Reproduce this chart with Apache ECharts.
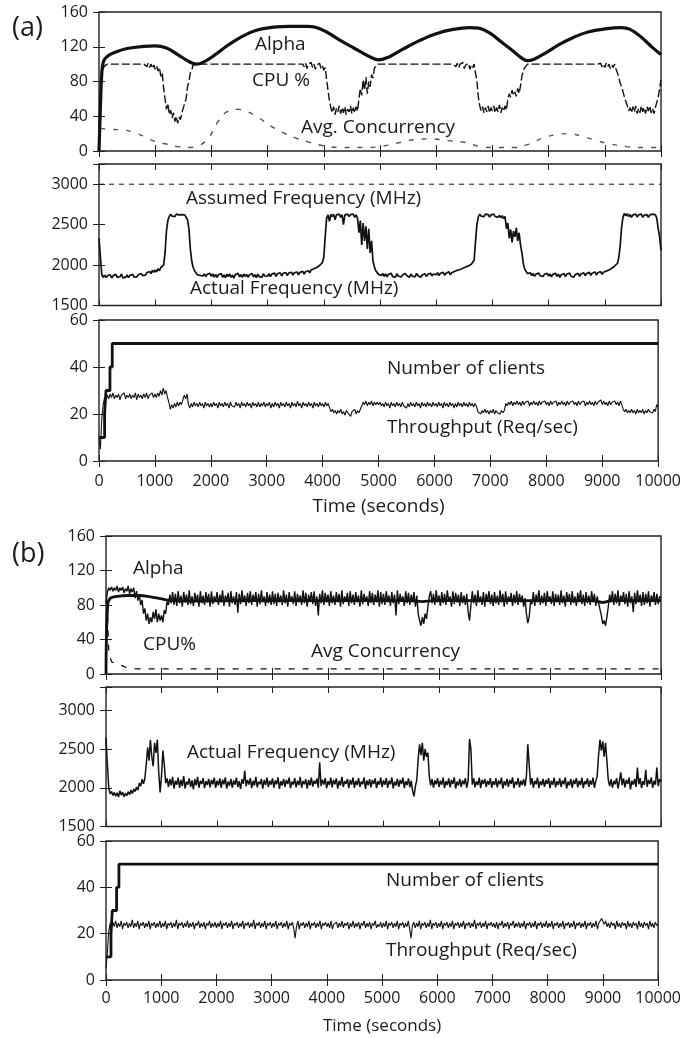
<!DOCTYPE html>
<html>
<head>
<meta charset="utf-8">
<script src="https://cdn.jsdelivr.net/npm/echarts@6/dist/echarts.min.js"></script>
<style>
html,body{margin:0;padding:0;background:#fff;}
#chart{width:684px;height:1038px;}
</style>
</head>
<body>
<div id="chart"></div>
<script>
// ---------------- DATA ----------------
const STEP = 25; // sampling interval (s) of the noisy traces

// (a) panel 1
const alphaA = [[0,0],[25,50],[50,90],[80,103],[150,109],[300,114],[500,118],[800,120.5],[1000,121],[1200,118.5],[1400,111],[1600,103],[1730,100],[1850,102],[2050,110],[2300,122],[2550,132],[2800,139],[3100,142.5],[3400,143.5],[3700,143.5],[3850,142.5],[4050,137],[4300,127],[4550,118],[4800,109],[4970,105],[5150,108],[5400,117],[5700,127],[6000,135],[6300,140],[6600,142],[6750,141.5],[6950,136],[7150,126],[7350,116],[7500,108],[7620,104],[7750,106],[7950,113],[8200,123],[8450,131],[8700,137],[9000,140.5],[9300,142],[9450,140],[9650,131],[9850,119],[10000,111]];
const cpuA = [
 5,60,88,95,98,100,100,100,100,100,100,100,100,100,100,100,100,100,100,100,100,100,100,100,100,100,100,100,100,100,100,100,100,100,97,101,96,100,95,99,
 94,98,92,96,86,90,72,60,48,55,42,47,38,44,34,40,32,39,36,44,42,55,60,74,80,90,93,99,97,100,100,100,100,100,100,100,100,100,100,100,
 100,100,100,100,100,100,100,100,100,100,100,100,100,100,100,100,100,100,100,100,100,100,100,100,100,100,100,100,100,100,100,100,100,100,100,100,100,100,100,100,
 100,100,100,100,100,100,100,100,100,100,100,100,100,100,100,100,100,100,100,100,100,100,100,100,100,100,97,101,95,100,98,102,96,100,94,99,97,101,95,98,
 93,96,82,70,58,50,44,51,42,49,45,52,43,50,44,51,42,48,45,52,43,50,44,51,46,60,72,64,82,70,85,66,80,74,88,84,95,97,100,100,
 100,100,100,100,100,100,100,100,100,100,100,100,100,100,100,100,100,100,100,100,100,100,100,100,100,100,100,100,100,100,100,100,100,100,100,100,100,100,100,100,
 100,100,100,100,100,100,100,100,100,100,100,100,100,100,97,101,96,100,98,102,95,99,97,101,94,99,96,100,90,80,62,52,46,51,44,50,45,52,44,50,
 46,52,44,50,45,53,44,50,46,52,47,60,66,62,70,64,68,63,72,66,75,86,92,96,98,100,100,100,100,100,100,100,100,100,100,100,100,100,100,100,
 100,100,100,100,100,100,100,100,100,100,100,100,100,100,100,100,100,100,100,100,100,100,100,100,100,100,100,100,100,100,100,100,100,100,100,100,98,101,97,100,
 96,101,97,100,95,99,96,100,94,90,84,78,74,68,62,57,52,46,50,44,51,45,52,43,49,44,52,45,50,43,51,46,52,44,49,43,50,48,62,72,
 82];
const concA = [[20,26],[200,25],[450,24],[650,21],[850,15],[1000,11],[1200,8],[1400,5],[1600,4],[1800,7],[1950,15],[2100,32],[2250,44],[2450,48],[2650,45],[2850,38],[3050,29],[3250,22],[3500,15],[3750,10],[4000,6],[4300,4],[4700,4],[5000,5],[5300,9],[5600,13],[5900,14],[6200,12],[6500,10],[6800,5],[7100,4],[7400,4],[7650,8],[7900,15],[8150,19],[8350,20],[8600,17],[8850,12],[9100,8],[9400,5],[9700,4],[10000,4]];

// (a) panel 2
const assumedA = [[0,3000],[10000,3000]];
const freqA = [
 2330,2100,1880,1850,1875,1845,1870,1852,1880,1840,1868,1855,1885,1848,1872,1858,1890,1842,1866,1850,1878,1846,1872,1860,1885,1850,1870,1855,1880,1862,1895,1870,1888,1875,1905,1885,1920,1895,1935,1910,
 1940,1915,1955,1930,1970,1950,2000,2150,2420,2550,2600,2630,2605,2625,2600,2630,2610,2620,2598,2625,2605,2620,2590,2560,2450,2200,2050,1970,1930,1905,1880,1900,1872,1895,1865,1890,1860,1885,1870,1898,
 1860,1890,1852,1885,1848,1880,1862,1895,1850,1878,1845,1888,1858,1892,1850,1875,1840,1882,1865,1898,1855,1880,1848,1890,1860,1885,1850,1878,1862,1895,1852,1882,1845,1888,1858,1880,1850,1892,1865,1885,
 1862,1895,1858,1888,1870,1900,1860,1892,1875,1905,1865,1898,1878,1908,1870,1900,1880,1912,1875,1905,1885,1915,1880,1910,1890,1922,1888,1918,1895,1930,1905,1940,1920,1955,1935,1970,1960,1995,1985,2030,
 2100,2350,2580,2620,2540,2625,2600,2630,2560,2620,2605,2630,2590,2625,2500,2620,2610,2630,2600,2625,2610,2630,2590,2620,2580,2400,2550,2250,2520,2300,2480,2200,2450,2150,2300,2050,1980,1930,1910,1885,
 1900,1870,1895,1862,1890,1855,1885,1868,1898,1858,1880,1850,1892,1865,1888,1852,1878,1860,1895,1870,1885,1848,1890,1862,1880,1855,1898,1868,1885,1850,1878,1862,1892,1858,1885,1870,1900,1865,1890,1875,
 1880,1905,1870,1898,1885,1910,1875,1900,1890,1918,1880,1905,1895,1920,1905,1935,1915,1945,1930,1960,1945,1975,1960,1990,1985,2010,2030,2060,2300,2500,2600,2630,2605,2625,2600,2630,2610,2625,2595,2620,
 2605,2630,2600,2620,2590,2615,2585,2610,2575,2600,2450,2520,2330,2440,2280,2420,2350,2460,2300,2400,2250,2150,2020,1950,1920,1895,1880,1905,1870,1895,1862,1888,1875,1900,1868,1892,1858,1885,1870,1898,
 1865,1890,1855,1885,1870,1898,1860,1888,1848,1880,1868,1895,1858,1888,1872,1900,1862,1885,1850,1882,1870,1898,1860,1890,1875,1905,1868,1895,1880,1910,1872,1900,1885,1915,1878,1905,1890,1920,1885,1912,
 1895,1925,1905,1940,1925,1960,1950,1990,1985,2020,2100,2250,2480,2600,2640,2610,2635,2600,2625,2590,2620,2600,2630,2595,2620,2605,2630,2590,2615,2600,2625,2590,2620,2600,2630,2610,2620,2580,2450,2350,
 2180];

// (a) panel 3
const clientsA = [[0,10],[100,20],[125,30],[196,40],[237,50],[10000,50]];
const tputA = [
 10,5,18,24,27,26,28,26.5,28.5,27,29,26.5,28,27,28.5,26,28,27.5,29,26.5,28,27,28.5,26.5,28,27,29,26,28.5,27,28,26.5,28.5,27,29,26.5,28,27.5,29,27,
 28.5,27,29,27.5,30,28,31,28.5,30,27,25,22,24,22.5,24.5,23,25,23.5,25,24,26,28,26.5,28.5,24,22.5,24.5,23,25,23.5,24.5,23,25,23.5,24.5,22.5,25,23.5,24.5,23,
 24.5,23,25,23.5,24.5,22.5,25,23.5,24.5,23,25,23.5,24.5,22.5,25,23.5,24,23,25,23.5,24.5,22.5,25,23.5,24.5,23,25,23.5,24.5,22.5,25,23.5,24.5,23,25,23,24.5,23.5,25,23,
 24.5,23.5,25,22.5,24.5,23,25,23.5,24.5,22.5,25,23.5,24.5,23,25,23.5,24.5,22.5,25,23.5,24.5,23,25.5,23.5,24.5,22.5,25,23.5,24.5,23,25,23.5,24.5,22.5,25,23.5,24.5,23,25,23.5,
 24.5,23,25,23.5,24.5,22.5,21,22,20.5,21.5,20,21.5,20.5,22,20,21,19.5,21.5,20.5,21,19,21,20.5,22,20,21.5,20.5,22,22.5,25,24,25.5,23.5,25,24,25.5,23.5,25,24,25,
 24,25,23.5,24.5,23,25,23.5,24.5,22.5,25,23.5,24.5,23,25,23.5,24.5,23,25,23.5,24,22.5,24.5,23,25,23.5,24.5,23,25,23.5,24.5,22.5,25,23.5,24.5,23,25,23.5,24.5,23,25,
 23.5,24.5,23,25,23.5,24.5,22.5,25,23.5,24.5,23,25,23.5,24.5,22.5,24.5,23,25,23.5,24.5,23,25,23.5,24.5,23,25,23.5,24.5,23,24.5,23.5,21,21.5,20,21.5,20.5,22,20.5,21.5,20,
 21.5,20.5,22,20,21.5,20.5,21,20,21.5,20.5,21.5,24.5,23.5,25,24,25.5,23.5,25,24,25.5,24,25,23.5,25.5,24,25,24.5,25.5,23.5,25,24,25.5,24,25,23.5,25.5,24,25,24.5,25.5,
 24,25,23.5,25.5,24,25,24.5,25.5,23.5,25,24,25.5,24,25,23.5,25.5,24,25,24.5,25.5,24,25,23.5,25.5,24,25,24.5,25.5,23.5,25,24,25.5,24,25,23.5,25.5,24,25,24.5,26,
 24,25.5,24,25,23.5,25.5,24,25,24.5,25.5,24,25,23.5,25.5,24,22,21,22,20.5,21.5,20.5,22,20.5,21.5,20,22,20.5,21.5,20.5,22,20,21.5,20.5,22,21,21.5,20.5,22,21,24,
 23];

// (b) panel 1
const alphaB = [[0,0],[30,80],[80,88],[200,90],[400,91],[600,91],[800,89.5],[1000,87],[1200,85],[1500,84.5],[2500,85],[3500,85],[4500,85],[5500,85],[5700,84],[5900,85],[7000,85],[8000,85],[8800,85],[8950,83],[9100,85],[10000,85]];
const cpuB = [
 82,95,100,97,101,96,100,97,102,95,100,97,101,94,99,96,102,93,99,95,100,88,96,85,92,80,86,70,76,62,70,58,66,60,72,64,75,60,70,62,
 68,60,74,70,84,80,92,82,95,80,93,79,96,82,91,78,95,83,92,80,97,81,90,79,94,84,92,78,96,82,91,80,95,83,93,78,96,81,90,84,
 95,80,92,83,97,79,91,84,94,78,96,82,90,80,95,71,93,81,97,83,91,79,94,82,96,80,92,84,95,78,93,81,97,83,90,79,95,82,92,80,
 96,81,93,79,94,83,91,80,97,82,92,78,95,84,90,81,96,79,93,83,91,80,97,82,94,78,92,84,95,81,96,79,90,68,93,82,97,80,94,83,
 92,79,96,82,91,80,95,83,93,78,97,81,90,84,94,79,96,82,92,80,95,83,91,78,97,81,93,84,90,79,96,82,94,80,92,83,97,78,95,81,
 93,80,96,83,91,79,95,82,92,68,97,81,93,84,90,79,96,82,94,80,92,83,95,78,91,70,62,56,66,58,70,64,78,90,96,82,93,80,97,83,
 91,79,95,82,93,80,97,84,90,78,96,81,94,83,92,79,95,82,91,80,93,72,62,80,96,82,92,79,97,83,90,80,95,78,93,84,96,81,92,79,
 95,82,91,80,97,83,93,78,96,81,90,84,94,79,92,82,96,80,93,83,91,78,88,70,59,66,84,81,95,79,92,83,97,80,91,82,94,79,96,84,
 90,81,96,79,93,83,92,80,97,82,91,78,95,84,93,80,96,82,90,79,94,83,97,81,92,79,95,82,91,80,96,83,93,79,90,82,84,68,58,62,
 56,66,78,92,83,96,80,93,82,97,79,91,84,95,81,93,78,96,82,90,72,94,81,97,83,92,79,95,80,93,82,96,78,91,84,95,80,93,81,90,
 88];
const concB = [[0,0],[20,82],[50,25],[100,14],[200,12],[350,8],[550,6],[10000,6]];

// (b) panel 2
const freqB = [
 2650,2300,2000,1920,1950,1900,1940,1890,1935,1880,1960,1905,1945,1885,1930,1895,1950,1910,1970,1925,1985,1950,2010,1970,2060,2020,2110,2050,2120,2300,2520,2350,2620,2400,2280,2580,2450,2620,2200,1940,
 2150,2480,2300,2060,2120,2010,2110,2030,2140,1990,2090,2040,2130,2000,2100,2020,2150,1990,2080,2040,2120,2010,2095,1980,2110,2030,2140,2000,2090,2050,2125,1995,2085,2035,2115,2005,2100,2045,2130,2000,
 2090,2030,2120,2000,2105,2045,2135,1990,2080,2025,2115,2000,2095,2040,2130,2010,2085,1985,2110,2050,2220,2020,2100,2040,2125,1995,2090,2030,2140,2005,2080,2045,2115,1990,2100,2035,2130,2010,2090,2040,
 2120,2000,2095,2045,2135,1985,2085,2030,2115,2010,2100,2050,2130,1995,2080,2040,2125,2005,2090,2035,2140,2000,2085,2045,2110,1990,2100,2030,2130,2015,2090,2050,2120,2000,2330,2020,2105,2040,2125,1995,
 2085,2035,2130,2005,2100,2045,2120,1990,2090,2030,2140,2010,2085,2050,2115,1995,2100,2040,2130,2000,2090,2035,2125,2010,2080,2045,2135,1985,2095,2030,2110,2005,2100,2050,2120,1995,2085,2040,2130,2010,
 2095,2040,2125,2000,2090,2045,2135,1990,2080,2030,2115,2010,2100,2050,2130,1995,2085,2035,2120,2005,2090,1960,1890,2020,2100,2380,2560,2420,2580,2350,2500,2400,2450,2150,2030,2110,2000,2095,2045,2125,
 2010,2090,2040,2130,1995,2085,2035,2120,2005,2100,2050,2135,1990,2080,2030,2115,2010,2095,2045,2125,2000,2090,2630,2500,2040,2120,2005,2085,2035,2130,1995,2100,2050,2115,2010,2090,2040,2125,2000,2085,
 2035,2120,2005,2095,2045,2130,1990,2085,2030,2115,2010,2100,2050,2135,1995,2080,2040,2125,2005,2090,2035,2110,2020,2150,2560,2300,2040,2125,2000,2090,2045,2130,1995,2085,2035,2115,2010,2100,2050,2125,
 1995,2090,2040,2130,2005,2085,2035,2120,2010,2095,2045,2135,1990,2080,2030,2115,2000,2100,2050,2125,2005,2090,2035,2130,1995,2085,2045,2120,2010,2095,2040,2130,2000,2085,2150,2420,2620,2480,2600,2400,
 2580,2350,2100,2020,2110,2000,2090,2045,2125,1990,2085,2200,2035,2120,2005,2100,2050,2130,1980,2090,2040,2115,2010,2260,2045,2125,1995,2085,2035,2230,2010,2100,2050,2135,2000,2090,2040,2260,2020,2110,
 2080];

// (b) panel 3
const clientsB = [[0,10],[90,20],[114,30],[192,40],[234,50],[10000,50]];
const tputB = [
 5,12,21,24.5,22,25,23,25.5,22.5,24.5,23,25.5,22,24.5,23.5,25,22.5,24.5,23,26,22.5,24.5,23,25.5,22,24.5,23.5,25,22.5,24.5,23,25.5,22,24.5,23.5,25,22.5,24.5,23,25.5,
 22.5,24.5,23,25.5,22,24.5,23.5,25,22.5,24.5,23,26,22,24.5,23.5,25,22.5,24.5,23,25.5,22.5,24.5,23,25,22,24.5,23.5,25.5,22.5,24.5,23,25,22,24.5,23.5,25.5,22.5,24.5,23,25,
 22.5,24.5,23,25.5,22,24.5,23.5,25,22.5,24.5,23,25.5,22,24.5,23.5,25,22.5,24.5,23,25.5,22,24.5,23.5,25,22.5,24.5,23,26,22,24.5,23.5,25,22.5,24.5,23,25.5,22,24.5,23.5,25,
 22.5,24.5,23,25.5,22,24.5,23.5,25,22.5,24.5,23,25.5,22,24.5,23.5,25,22.5,18,23,25.5,22,24.5,23.5,25,22.5,24.5,23,25.5,22,24.5,23.5,25,22.5,24.5,23,25.5,22,24.5,23.5,25,
 23,24.5,22.5,25.5,22,24,23.5,25,22.5,24.5,23,25.5,22.5,24.5,23.5,25,22,24.5,23,25.5,22.5,24.5,23,25,22,24.5,23.5,25.5,22.5,24.5,23,25,22,24.5,23.5,25.5,22.5,24,23,25,
 22.5,24.5,23,25.5,22,24.5,23.5,25,22.5,24.5,23,25.5,22,24.5,23.5,25,22.5,24.5,23,25.5,22,18,23.5,25,22.5,24.5,23,25.5,22,24.5,23.5,25,22.5,24.5,23,26,22,24.5,23.5,25,
 22.5,24.5,23,25.5,22,24.5,23.5,25,22.5,24.5,23,25.5,22,24.5,23.5,25,22.5,24.5,23,25.5,22,24.5,23.5,25,22.5,24.5,23,26,22,24.5,23.5,25,22.5,24.5,23,25.5,22,24.5,23.5,25,
 23,24.5,22.5,25,22,24.5,23.5,25.5,22.5,24.5,23,25,22,24.5,23.5,25.5,22.5,24.5,23,25,22.5,24.5,23,25.5,22,24.5,23.5,25,22.5,24.5,23,25.5,22,24.5,23.5,25,22.5,24.5,23,25.5,
 22.5,24.5,23,25.5,22,24.5,23.5,25,22.5,24.5,23,25.5,22,24.5,23.5,25,22.5,24.5,23,25.5,22,24.5,23.5,25,22.5,24.5,23,25.5,22,24.5,23.5,25,22.5,24.5,23,25.5,22,24.5,24,26.5,
 27,24,25.5,23,24.5,22.5,25,23.5,24.5,22,25.5,23,24.5,22.5,25,23.5,24.5,22,25.5,23,24.5,22.5,25,23.5,24.5,22,25.5,23,24.5,22.5,25,23.5,24.5,22,25.5,23,24.5,22.5,25,23.5,
 24];

// Text labels
const xTitle = 'Time (seconds)';
const annotations = [
  {text:'(a)', x:12, y:28, size:27},
  {text:'Alpha', x:255, y:44.5, size:19},
  {text:'CPU %', x:252, y:81, size:19},
  {text:'Avg. Concurrency', x:301, y:128, size:19},
  {text:'Assumed Frequency (MHz)', x:186, y:198.5, size:19},
  {text:'Actual Frequency (MHz)', x:190, y:289, size:19},
  {text:'Number of clients', x:387, y:368.5, size:19},
  {text:'Throughput (Req/sec)', x:387, y:428, size:19},
  {text:'(b)', x:12, y:554, size:27},
  {text:'Alpha', x:133, y:569, size:19},
  {text:'CPU%', x:143, y:645, size:19},
  {text:'Avg Concurrency', x:311, y:652, size:19},
  {text:'Actual Frequency (MHz)', x:187, y:753, size:19},
  {text:'Number of clients', x:386, y:881, size:19},
  {text:'Throughput (Req/sec)', x:386, y:951, size:19}
];

// ---------------- CHART ----------------
const FONT = 'Open Sans';
const INK = '#1a1a1a';
const toXY = arr => arr.map((v, i) => [i * STEP, v]);

const gridDefs = [
  {left:99, right:23, top:12, height:139},
  {left:99, right:23, top:164, height:141.5},
  {left:99, right:23, top:320, height:141},
  {left:106, right:23, top:536, height:138},
  {left:106, right:23, top:687, height:139.5},
  {left:106, right:23, top:841, height:139}
];
const yRanges = [[0,160,40],[1500,3250,500],[0,60,20],[0,160,40],[1500,3300,500],[0,60,20]];
const showX = [false,false,true,false,false,true];

const grid = gridDefs.map(g => Object.assign({show:true, borderColor:'#222', borderWidth:1.4, backgroundColor:'transparent'}, g));
const tickStyle = {show:true, inside:true, length:6, lineStyle:{color:'#222', width:1}};

const xAxis = [], yAxis = [];
gridDefs.forEach((g, i) => {
  xAxis.push({
    type:'value', gridIndex:i, min:0, max:10000, interval:1000, position:'bottom',
    axisLine:{show:false}, splitLine:{show:false}, axisTick:tickStyle,
    axisLabel:{show:showX[i], margin: i === 2 ? 12 : 10, fontFamily:FONT, fontSize:16, color:INK,
      formatter: v => String(v)},
    name: showX[i] ? xTitle : '', nameLocation:'middle', nameGap: i === 2 ? 36 : 38,
    nameTextStyle:{fontFamily:FONT, fontSize: i === 2 ? 19 : 17, color:INK}
  });
  xAxis.push({
    type:'value', gridIndex:i, min:0, max:10000, interval:1000, position:'top',
    axisLine:{show:false}, splitLine:{show:false}, axisTick:tickStyle, axisLabel:{show:false}
  });
  const [mn, mx, iv] = yRanges[i];
  yAxis.push({
    type:'value', gridIndex:i, min:mn, max:mx, interval:iv, position:'left',
    axisLine:{show:false}, splitLine:{show:false}, axisTick:tickStyle,
    axisLabel:{show:true, margin:11, fontFamily:FONT, fontSize:16, color:INK,
      formatter: v => (v % iv === 0 ? String(v) : '')}
  });
  yAxis.push({
    type:'value', gridIndex:i, min:mn, max:mx, interval:iv, position:'right',
    axisLine:{show:false}, splitLine:{show:false}, axisTick:tickStyle, axisLabel:{show:false}
  });
});

function line(data, gi, lineStyle, extra) {
  return Object.assign({
    type:'line', data, xAxisIndex:2*gi, yAxisIndex:2*gi,
    symbol:'none', showSymbol:false, animation:false, silent:true,
    lineStyle:Object.assign({color:'#111', width:1.2}, lineStyle), z:3
  }, extra || {});
}

const series = [
  // (a)
  line(concA, 0, {color:'#555', width:1.4, type:[5,8]}, {smooth:0.4}),
  line(toXY(cpuA), 0, {width:1.4, type:[8,3]}),
  line(alphaA, 0, {width:3.2}, {smooth:0.4, z:4}),
  line(assumedA, 1, {width:1, type:[5,5]}),
  line(toXY(freqA), 1, {width:1.7}),
  line(toXY(tputA), 2, {width:1.1}),
  line(clientsA, 2, {width:2.8}, {step:'end', z:4}),
  // (b)
  line(concB, 3, {width:1.3, type:[6,8]}),
  line(toXY(cpuB), 3, {width:1.4}),
  line(alphaB, 3, {width:2.8}, {smooth:0.4, z:4}),
  line(toXY(freqB), 4, {width:1.5}),
  line(toXY(tputB), 5, {width:1.1}),
  line(clientsB, 5, {width:2.8}, {step:'end', z:4})
];

const graphic = annotations.map(a => ({
  type:'text', x:a.x, y:a.y, z:100, silent:true,
  style:{text:a.text, fontFamily:FONT, fontSize:a.size, fill:INK, align:'left', verticalAlign:'middle'}
}));

const chart = echarts.init(document.getElementById('chart'), null, {renderer:'canvas'});
chart.setOption({
  animation:false,
  backgroundColor:'#fff',
  grid, xAxis, yAxis, series, graphic
});
</script>
</body>
</html>
